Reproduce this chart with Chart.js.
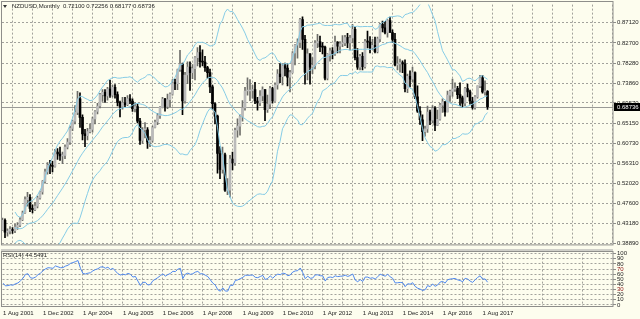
<!DOCTYPE html>
<html>
<head>
<meta charset="utf-8">
<script src="https://cdn.jsdelivr.net/npm/chart.js@4.4.0/dist/chart.umd.min.js"></script>
<style>
  html, body { margin: 0; padding: 0; background: #fdfdee; }
  #wrap { position: relative; width: 640px; height: 319px; overflow: hidden; }
  canvas { position: absolute; left: 0; }
  #main { top: 0; }
  #rsi { top: 249px; }
</style>
</head>
<body>
<div id="wrap">
  <canvas id="main" width="640" height="249"></canvas>
  <canvas id="rsi" width="640" height="70"></canvas>
</div>
<script>
/* NZDUSD monthly, Jun 2000 .. Oct 2017 (first 14 bars only feed the indicators) */

const symbol = 'NZDUSD,Monthly';
const firstBar = 14; // index of Aug 2001, the left-most visible bar

const opens = [
  .4620, .4680, .4520, .4300, .4040, .3990, .4130,
  .4440, .4380, .4260, .4050, .4130, .4120, .4100, .4180, .4390, .4130, .4150, .4190,
  .4160, .4240, .4280, .4400, .4550, .4840, .4890, .4650, .4620, .4700, .4880, .5010,
  .5240, .5450, .5600, .5590, .5570, .5880, .5840, .5800, .5810, .5990, .6100, .6400,
  .6560, .6750, .7050, .6640, .6280, .6240, .6330, .6380, .6610, .6770, .6890, .7140,
  .7190, .7110, .7260, .7130, .7300, .7140, .6970, .6880, .6960, .6920, .7050, .7000,
  .6830, .6880, .6560, .6140, .6370, .6370, .6100, .6140, .6420, .6540, .6680, .6860,
  .7040, .6880, .7030, .7150, .7400, .7380, .7690, .7810, .7000, .7570, .7740, .7620,
  .7710, .7950, .8060, .7860, .7850, .7730, .7620, .7310, .6940, .6670, .5850, .5500,
  .5820, .5050, .5050, .5730, .5650, .6360, .6450, .6660, .6850, .7220, .7220, .7230,
  .7250, .7000, .6960, .7110, .7250, .6810, .6930, .7270, .7000, .7350, .7590, .7530,
  .7770, .7720, .7520, .7620, .8050, .8230, .8280, .8780, .8350, .7630, .8030, .7740,
  .7780, .8270, .8300, .8190, .8180, .7500, .8020, .8100, .8030, .8290, .8200, .8250,
  .8270, .8390, .8270, .8380, .8570, .7950, .7740, .7980, .7750, .8300, .8290, .8160,
  .8220, .8080, .8360, .8680, .8600, .8500, .8760, .8500, .8350, .7790, .7810, .7840,
  .7810, .7270, .7540, .7480, .7620, .7090, .6780, .6590, .6330, .6390, .6760, .6580,
  .6840, .6470, .6600, .6910, .6980, .6760, .7130, .7210, .7260, .7280, .7140, .7070,
  .6950, .7270, .7200, .7000, .6860, .7090, .7330, .7510, .7200, .72100
];
const highs = [
  .4800, .4720, .4560, .4350, .4130, .4200, .4490,
  .4560, .4420, .4290, .4170, .4220, .4180, .4220, .4440, .4420, .4200, .4250, .4230,
  .4300, .4340, .4450, .4590, .4900, .5000, .4950, .4730, .4780, .4920, .5030, .5260,
  .5510, .5650, .5700, .5680, .5940, .5960, .5990, .5880, .6040, .6180, .6450, .6580,
  .6900, .7210, .7180, .6700, .6380, .6400, .6500, .6650, .6790, .6950, .7170, .7250,
  .7250, .7300, .7460, .7350, .7360, .7200, .7000, .7080, .7080, .7120, .7140, .7050,
  .6960, .6930, .6620, .6420, .6530, .6420, .6220, .6450, .6580, .6730, .6880, .7080,
  .7060, .7150, .7180, .7470, .7480, .7700, .8110, .7830, .7630, .7860, .7860, .7800,
  .7970, .8170, .8215, .8120, .7980, .7760, .7700, .7350, .6960, .6690, .6000, .5990,
  .5860, .5300, .5810, .5880, .6410, .6610, .6700, .7010, .7300, .7510, .7470, .7350,
  .7410, .7080, .7230, .7310, .7250, .7130, .7320, .7300, .7400, .7690, .7820, .7810,
  .7830, .7810, .7670, .8080, .8240, .8360, .8810, .8843, .8440, .8140, .8040, .7950,
  .8320, .8460, .8420, .8280, .8200, .8040, .8160, .8170, .8420, .8300, .8300, .8430,
  .8440, .8480, .8440, .8680, .8620, .8150, .8020, .8060, .8350, .8530, .8410, .8350,
  .8400, .8400, .8700, .8750, .8745, .8780, .8836, .8560, .8480, .7970, .7920, .7880,
  .7900, .7590, .7660, .7740, .7640, .7330, .6880, .6700, .6450, .6890, .6800, .6900,
  .6880, .6800, .6950, .7050, .6990, .7220, .7240, .7480, .7400, .7320, .7400, .7110,
  .7300, .7370, .7240, .7080, .7120, .7330, .7560, .7560, .7440, .72256
];
const lows = [
  .4560, .4480, .4240, .3980, .3900, .3960, .4110,
  .4300, .4240, .4030, .4020, .4050, .4030, .4020, .4170, .4010, .4040, .4090, .4100,
  .4120, .4190, .4250, .4380, .4540, .4700, .4580, .4550, .4600, .4660, .4850, .4960,
  .5200, .5400, .5410, .5450, .5550, .5720, .5700, .5630, .5740, .5950, .6050, .6350,
  .6500, .6700, .6420, .6150, .6000, .6150, .6300, .6320, .6500, .6720, .6850, .6990,
  .6970, .7020, .7080, .7090, .7060, .6890, .6650, .6820, .6860, .6900, .6940, .6770,
  .6760, .6520, .6050, .6070, .6190, .5960, .6000, .6100, .6410, .6480, .6620, .6850,
  .6780, .6830, .6870, .7130, .7250, .7250, .7650, .6700, .6950, .7380, .7230, .7490,
  .7460, .7770, .7740, .7770, .7650, .7500, .7180, .6820, .6500, .5420, .5300, .5420,
  .5020, .4950, .4895, .5490, .5590, .6210, .6250, .6560, .6800, .7130, .7010, .7060,
  .6940, .6800, .6900, .7000, .6570, .6750, .6830, .6950, .6990, .7260, .7400, .7350,
  .7550, .7330, .7200, .7610, .7790, .7940, .8170, .8130, .7370, .7460, .7370, .7600,
  .7700, .8170, .8080, .8030, .7460, .7460, .7870, .7920, .8000, .8050, .8050, .8190,
  .8210, .8170, .8120, .8270, .7900, .7690, .7680, .7680, .7720, .8160, .8050, .8130,
  .8050, .8050, .8300, .8510, .8470, .8400, .8500, .8280, .7770, .7680, .7630, .7620,
  .7200, .7180, .7310, .7420, .7050, .6750, .6490, .6130, .6230, .6310, .6480, .6520,
  .6350, .6460, .6580, .6750, .6670, .6760, .6990, .7100, .7210, .7050, .6900, .6860,
  .6890, .7090, .6930, .6820, .6820, .7060, .7290, .7170, .7130, .68177
];
const closes = [
  .4680, .4520, .4300, .4040, .3990, .4130, .4440,
  .4380, .4260, .4050, .4130, .4120, .4100, .4180, .4390, .4130, .4150, .4190, .4160,
  .4240, .4280, .4400, .4550, .4840, .4890, .4650, .4620, .4700, .4880, .5010, .5240,
  .5450, .5600, .5590, .5570, .5880, .5840, .5800, .5810, .5990, .6100, .6400, .6560,
  .6750, .7050, .6640, .6280, .6240, .6330, .6380, .6610, .6770, .6890, .7140, .7190,
  .7110, .7260, .7130, .7300, .7140, .6970, .6880, .6960, .6920, .7050, .7000, .6830,
  .6880, .6560, .6140, .6370, .6370, .6100, .6140, .6420, .6540, .6680, .6860, .7040,
  .6880, .7030, .7150, .7400, .7380, .7690, .7810, .7000, .7570, .7740, .7620, .7710,
  .7950, .8060, .7860, .7850, .7730, .7620, .7310, .6940, .6670, .5850, .5500, .5820,
  .5050, .5050, .5730, .5650, .6360, .6450, .6660, .6850, .7220, .7220, .7230, .7250,
  .7000, .6960, .7110, .7250, .6810, .6930, .7270, .7000, .7350, .7590, .7530, .7770,
  .7720, .7520, .7620, .8050, .8230, .8280, .8780, .8350, .7630, .8030, .7740, .7780,
  .8270, .8300, .8190, .8180, .7500, .8020, .8100, .8030, .8290, .8200, .8250, .8270,
  .8390, .8270, .8380, .8570, .7950, .7740, .7980, .7750, .8300, .8290, .8160, .8220,
  .8080, .8360, .8680, .8600, .8500, .8760, .8500, .8350, .7790, .7810, .7840, .7810,
  .7270, .7540, .7480, .7620, .7090, .6780, .6590, .6330, .6390, .6760, .6580, .6840,
  .6470, .6600, .6910, .6980, .6760, .7130, .7210, .7260, .7280, .7140, .7070, .6950,
  .7270, .7200, .7000, .6860, .7090, .7330, .7510, .7200, .7210, .68736
];

const timeTicks = ['1 Aug 2001', '1 Dec 2002', '1 Apr 2004', '1 Aug 2005', '1 Dec 2006', '1 Apr 2008',
  '1 Aug 2009', '1 Dec 2010', '1 Apr 2012', '1 Aug 2013', '1 Dec 2014', '1 Apr 2016', '1 Aug 2017'];
const priceTicks = [0.87120, 0.82700, 0.78280, 0.73860, 0.69570, 0.65150, 0.60730,
  0.56310, 0.52020, 0.47600, 0.43180, 0.38890];
const rsiTicks = [100, 90, 80, 70, 60, 50, 40, 30, 20, 10, 0];
const rsiText = 'RSI(14) 44.5491';

/* look */
const BG = '#fdfdee';
const GRID = '#a2a29c';
const FRAME = '#8e8e8a';
const BAND = '#86cce6';
const TXT = '#1e1e1e';
const FONT = '"Liberation Sans", Arial, sans-serif';
const X_MIN = -0.2, X_MAX = 244.2;   // 2.5 px per month
const Y_MIN = 0.38613, Y_MAX = 0.91102;

Chart.defaults.font.family = FONT;
Chart.defaults.font.size = 6;
Chart.defaults.color = TXT;

/* indicators */
const BB_PERIOD = 20, RSI_PERIOD = 14;
const bbUpper = [], bbMid = [], bbLower = [];
for (let k = BB_PERIOD - 1; k < closes.length; k++) {
  const win = closes.slice(k - BB_PERIOD + 1, k + 1);
  const m = win.reduce((a, b) => a + b, 0) / BB_PERIOD;
  const sd = Math.sqrt(win.reduce((a, b) => a + (b - m) * (b - m), 0) / BB_PERIOD);
  const x = k - firstBar;
  bbMid.push({x, y: m});
  bbUpper.push({x, y: m + 2 * sd});
  bbLower.push({x, y: m - 2 * sd});
}

const rsiPts = [];
let avgG = 0, avgL = 0;
for (let k = 1; k < closes.length; k++) {
  const d = closes[k] - closes[k - 1];
  const g = Math.max(d, 0), l = Math.max(-d, 0);
  if (k <= RSI_PERIOD) {
    avgG += g / RSI_PERIOD; avgL += l / RSI_PERIOD;
    if (k < RSI_PERIOD) continue;
  } else {
    avgG = (avgG * (RSI_PERIOD - 1) + g) / RSI_PERIOD;
    avgL = (avgL * (RSI_PERIOD - 1) + l) / RSI_PERIOD;
  }
  rsiPts.push({x: k - firstBar, y: avgL === 0 ? 100 : 100 - 100 / (1 + avgG / avgL)});
}

/* candles as floating bars */
const wicks = [], wickColors = [], upBodies = [], downBodies = [];
closes.forEach((c, k) => {
  const x = k - firstBar, o = opens[k];
  wicks.push({x, y: [lows[k], highs[k]]});
  wickColors.push(c >= o ? '#6e6e6a' : '#000');
  (c >= o ? upBodies : downBodies).push({x, y: [o, c]});
});

const gridIdx = [];
for (let v = 0; v <= 240; v += 8) gridIdx.push(v);

const xGrid = {
  color: ctx => ctx.tick && ctx.tick.value === 0 ? 'rgba(0,0,0,0)' : GRID,
  lineWidth: 1,
  drawTicks: false
};

/* main window */
const mainDecor = {
  id: 'mainDecor',
  beforeDraw(chart) {
    const ctx = chart.ctx;
    ctx.save();
    ctx.fillStyle = BG;
    ctx.fillRect(0, 0, chart.width, chart.height);
    ctx.restore();
  },
  beforeDatasetsDraw(chart) {
    const {ctx, chartArea: a, scales: {y}} = chart;
    const py = Math.round(y.getPixelForValue(closes[closes.length - 1])) + 0.5;
    ctx.save();
    ctx.strokeStyle = '#9a9a96';
    ctx.lineWidth = 1;
    ctx.beginPath();
    ctx.moveTo(a.left, py);
    ctx.lineTo(a.right, py);
    ctx.stroke();
    ctx.restore();
  },
  afterDraw(chart) {
    const {ctx, chartArea: a, scales: {y}} = chart;
    ctx.save();
    // window frame
    ctx.strokeStyle = FRAME;
    ctx.lineWidth = 1;
    ctx.strokeRect(1.5, 1.5, a.right - 1.5, a.bottom - 1);
    // last price tag
    const last = closes[closes.length - 1];
    const py = Math.round(y.getPixelForValue(last));
    ctx.fillStyle = '#000';
    ctx.fillRect(a.right + 1, py - 4, 27, 8);
    ctx.fillStyle = '#fff';
    ctx.font = '6px ' + FONT;
    ctx.textBaseline = 'middle';
    ctx.fillText(last.toFixed(5), a.right + 4, py);
    // title
    ctx.fillStyle = '#333';
    ctx.beginPath();
    ctx.moveTo(3, 5); ctx.lineTo(7, 5); ctx.lineTo(5, 8); ctx.closePath();
    ctx.fill();
    ctx.fillStyle = TXT;
    const n = opens.length - 1;
    ctx.fillText(symbol, 12, 6.5);
    ctx.fillText([opens[n], highs[n], lows[n], closes[n]].map(v => v.toFixed(5)).join(' '), 63, 6.5);
    ctx.restore();
  }
};

new Chart(document.getElementById('main'), {
  type: 'bar',
  data: {
    datasets: [
      {type: 'line', data: bbUpper, borderColor: BAND, borderWidth: 1, pointRadius: 0},
      {type: 'line', data: bbMid, borderColor: BAND, borderWidth: 1, pointRadius: 0},
      {type: 'line', data: bbLower, borderColor: BAND, borderWidth: 1, pointRadius: 0},
      {data: upBodies, backgroundColor: '#bababa', barThickness: 2, grouped: false, minBarLength: 1},
      {data: downBodies, backgroundColor: '#000', barThickness: 2, grouped: false, minBarLength: 1},
      {data: wicks, backgroundColor: wickColors, barThickness: 1, grouped: false}
    ]
  },
  options: {
    responsive: false,
    animation: false,
    devicePixelRatio: 1,
    events: [],
    layout: {padding: {left: 2, top: 1.5, right: 0, bottom: 1}},
    plugins: {legend: {display: false}, tooltip: {enabled: false}},
    scales: {
      x: {
        type: 'linear', min: X_MIN, max: X_MAX, offset: false,
        afterBuildTicks: s => { s.ticks = gridIdx.map(v => ({value: v})); },
        afterFit: s => { s.height = 0; },
        ticks: {display: false},
        grid: xGrid,
        border: {display: false, dash: [2, 2]}
      },
      y: {
        position: 'right', min: Y_MIN, max: Y_MAX,
        afterBuildTicks: s => { s.ticks = priceTicks.map(v => ({value: v})); },
        afterFit: s => { s.width = 27; },
        ticks: {callback: v => v.toFixed(5), padding: 1, autoSkip: false},
        grid: {color: GRID, tickColor: FRAME, tickLength: 3},
        border: {display: false, dash: [2, 2]}
      }
    }
  },
  plugins: [mainDecor]
});

/* RSI window */
const rsiDecor = {
  id: 'rsiDecor',
  beforeDraw(chart) {
    const ctx = chart.ctx;
    ctx.save();
    ctx.fillStyle = BG;
    ctx.fillRect(0, 0, chart.width, chart.height);
    ctx.fillStyle = '#cfcfc8';
    ctx.fillRect(1, 0, chart.chartArea.right - 1, 2);
    ctx.restore();
  },
  afterDraw(chart) {
    const {ctx, chartArea: a} = chart;
    ctx.save();
    ctx.strokeStyle = FRAME;
    ctx.lineWidth = 1;
    ctx.strokeRect(1.5, 2.5, a.right - 1.5, a.bottom - 2.5);
    ctx.fillStyle = TXT;
    ctx.font = '6px ' + FONT;
    ctx.textBaseline = 'middle';
    ctx.fillText(rsiText, 3, 6.5);
    ctx.restore();
  }
};

new Chart(document.getElementById('rsi'), {
  type: 'line',
  data: {
    datasets: [
      {data: rsiPts, borderColor: '#4f88ee', borderWidth: 1, pointRadius: 0}
    ]
  },
  options: {
    responsive: false,
    animation: false,
    devicePixelRatio: 1,
    events: [],
    layout: {padding: {left: 2, top: 2.5, right: 0, bottom: 0}},
    plugins: {legend: {display: false}, tooltip: {enabled: false}},
    scales: {
      x: {
        type: 'linear', min: X_MIN, max: X_MAX, offset: false,
        afterBuildTicks: s => { s.ticks = gridIdx.map(v => ({value: v})); },
        afterFit: s => { s.height = 12.5; },
        ticks: {
          autoSkip: false, maxRotation: 0, align: 'start', padding: 3,
          callback: v => (v % 16 === 0 ? timeTicks[v / 16] : '')
        },
        grid: xGrid,
        border: {display: false, dash: [2, 2]}
      },
      y: {
        position: 'right', min: -3, max: 100,
        afterBuildTicks: s => { s.ticks = rsiTicks.map(v => ({value: v})); },
        afterFit: s => { s.width = 27; },
        ticks: {
          autoSkip: false, padding: 1,
          color: ctx => (ctx.tick.value === 70 || ctx.tick.value === 30 ? '#8a1010' : TXT)
        },
        grid: {color: GRID, tickColor: FRAME, tickLength: 3},
        border: {display: false, dash: [2, 2]}
      }
    }
  },
  plugins: [rsiDecor]
});
</script>
</body>
</html>
